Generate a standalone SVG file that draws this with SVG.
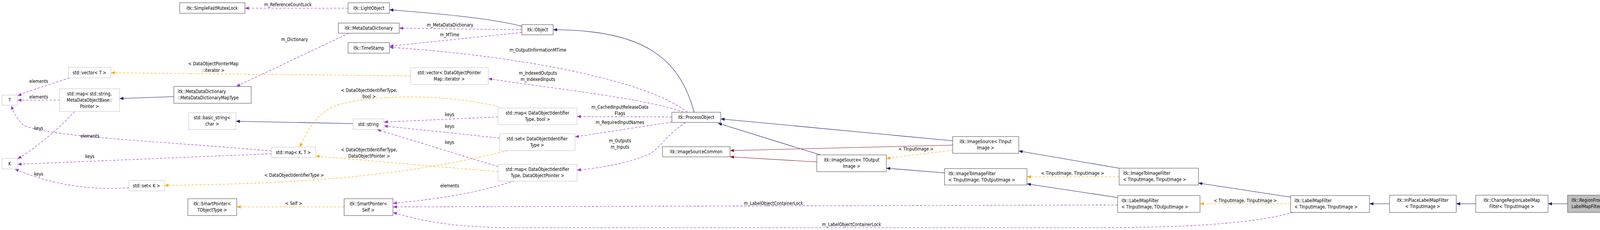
<svg xmlns="http://www.w3.org/2000/svg" width="4224" height="588" viewBox="0 0 4224 588">
<style>
text{font-family:"DejaVu Sans Condensed","DejaVu Sans",sans-serif;font-size:11.5px;fill:#000}
.n rect{fill:#fff;stroke:#404040;stroke-width:1}
.u rect{fill:#fff;stroke:#bfbfbf;stroke-width:1}
.c text{text-anchor:middle}
.e path{fill:none;stroke-width:1.1}
.p{stroke:#9a32cd;stroke-dasharray:6,4}
.o{stroke:#ffa500;stroke-dasharray:6,4}
.b{stroke:#191970}
.r{stroke:#8b1a1a}
.lb{text-anchor:middle}
</style>
<defs>
<marker id="ap" viewBox="0 0 10 8" refX="10" refY="4" markerWidth="10" markerHeight="8" markerUnits="userSpaceOnUse" orient="auto"><path d="M0,0L10,4L0,8z" fill="#9a32cd"/></marker>
<marker id="ao" viewBox="0 0 10 8" refX="10" refY="4" markerWidth="10" markerHeight="8" markerUnits="userSpaceOnUse" orient="auto"><path d="M0,0L10,4L0,8z" fill="#ffa500"/></marker>
<marker id="ab" viewBox="0 0 10 8" refX="10" refY="4" markerWidth="10" markerHeight="8" markerUnits="userSpaceOnUse" orient="auto"><path d="M0,0L10,4L0,8z" fill="#191970"/></marker>
<marker id="ar" viewBox="0 0 10 8" refX="10" refY="4" markerWidth="10" markerHeight="8" markerUnits="userSpaceOnUse" orient="auto"><path d="M0,0L10,4L0,8z" fill="#8b1a1a"/></marker>
</defs>
<rect width="4224" height="588" fill="#fff"/>
<g id="edges" class="e">
<path class="p" marker-end="url(#ap)" d="M891,21L627,21"/>
<path class="b" marker-end="url(#ab)" d="M1336,67C1250,45 1100,33 997,25"/>
<path class="p" marker-end="url(#ap)" d="M1336,76L1022,72"/>
<path class="p" marker-end="url(#ap)" d="M1336,83L997,118"/>
<path class="p" marker-end="url(#ap)" d="M1760,287C1650,200 1300,140 997,121"/>
<path class="b" marker-end="url(#ab)" d="M1777,287C1740,150 1650,76 1416,76"/>
<path class="p" marker-end="url(#ap)" d="M1750,287C1650,250 1400,225 1250,201"/>
<path class="o" marker-end="url(#ao)" d="M1051,194L284,186"/>
<path class="p" marker-end="url(#ap)" d="M893,85L605,221"/>
<path class="b" marker-end="url(#ab)" d="M445,247L306,252"/>
<path class="p" marker-end="url(#ap)" d="M153,256L45,256"/>
<path class="p" marker-end="url(#ap)" d="M178,199C130,215 80,230 45,245"/>
<path class="p" marker-end="url(#ap)" d="M191,285C150,330 90,380 45,406"/>
<path class="p" marker-end="url(#ap)" d="M695,386C400,360 120,350 60,320C45,305 35,290 29,270"/>
<path class="p" marker-end="url(#ap)" d="M695,393L45,420"/>
<path class="p" marker-end="url(#ap)" d="M330,480C250,485 150,480 38,432"/>
<path class="b" marker-end="url(#ab)" d="M904,316L604,310"/>
<path class="o" marker-end="url(#ao)" d="M1275,439L808,399"/>
<path class="o" marker-end="url(#ao)" d="M1276,273C1150,240 950,240 860,270C810,290 790,330 767,376"/>
<path class="o" marker-end="url(#ao)" d="M1300,385C1000,460 700,470 421,474"/>
<path class="p" marker-end="url(#ap)" d="M1275,299L983,312"/>
<path class="p" marker-end="url(#ap)" d="M1279,353L983,322"/>
<path class="p" marker-end="url(#ap)" d="M1275,426L965,331"/>
<path class="p" marker-end="url(#ap)" d="M1318,462C1200,500 1100,510 1006,520"/>
<path class="o" marker-end="url(#ao)" d="M881,529L606,529"/>
<path class="p" marker-end="url(#ap)" d="M1720,299L1477,298"/>
<path class="p" marker-end="url(#ap)" d="M1720,312L1472,350"/>
<path class="p" marker-end="url(#ap)" d="M1755,313C1700,350 1690,380 1660,395C1600,420 1530,430 1477,435"/>
<path class="p" marker-end="url(#ap)" d="M2861,524L1006,529"/>
<path class="p" marker-end="url(#ap)" d="M3310,543C3200,575 3000,582 2800,582L1300,582C1150,580 1080,565 1006,543"/>
<path class="b" marker-end="url(#ab)" d="M2439,360L1845,304"/>
<path class="b" marker-end="url(#ab)" d="M2100,396L1838,315"/>
<path class="r" marker-end="url(#ar)" d="M2439,371L1869,385"/>
<path class="r" marker-end="url(#ar)" d="M2091,414L1869,401"/>
<path class="o" marker-end="url(#ao)" d="M2439,384L2269,405"/>
<path class="b" marker-end="url(#ab)" d="M2418,442L2269,430"/>
<path class="b" marker-end="url(#ab)" d="M2865,430L2608,386"/>
<path class="o" marker-end="url(#ao)" d="M2865,452L2629,452"/>
<path class="b" marker-end="url(#ab)" d="M2861,505L2629,470"/>
<path class="b" marker-end="url(#ab)" d="M3304,504L3068,468"/>
<path class="o" marker-end="url(#ao)" d="M3304,521L3072,521"/>
<path class="b" marker-end="url(#ab)" d="M3557,521L3506,521"/>
<path class="b" marker-end="url(#ab)" d="M3778,521L3728,521"/>
<path class="b" marker-end="url(#ab)" d="M4013,521L3963,521"/>
<g class="lb">
<text x="737" y="16">m_ReferenceCountLock</text>
<text x="1152" y="68">m_MetaDataDictionary</text>
<text x="1151" y="93">m_MTime</text>
<text x="754" y="105">m_Dictionary</text>
<text x="1377" y="132">m_OutputInformationMTime</text>
<text x="1377" y="191">m_IndexedOutputs</text>
<text x="1377" y="207">m_IndexedInputs</text>
<text x="546" y="167">&lt; DataObjectPointerMap</text>
<text x="546" y="184">::iterator &gt;</text>
<text x="99" y="212">elements</text>
<text x="99" y="252">elements</text>
<text x="99" y="332">keys</text>
<text x="230" y="352">elements</text>
<text x="230" y="404">keys</text>
<text x="99" y="449">keys</text>
<text x="945" y="235">&lt; DataObjectIdentifierType,</text>
<text x="945" y="251">bool &gt;</text>
<text x="1151" y="297">keys</text>
<text x="1151" y="327">keys</text>
<text x="1151" y="368">keys</text>
<text x="945" y="387">&lt; DataObjectIdentifierType,</text>
<text x="945" y="403">DataObjectPointer &gt;</text>
<text x="753" y="452">&lt; DataObjectIdentifierType &gt;</text>
<text x="1151" y="479">elements</text>
<text x="752" y="524">&lt; Self &gt;</text>
<text x="1587" y="278">m_CachedInputReleaseData</text>
<text x="1587" y="294">Flags</text>
<text x="1587" y="317">m_RequiredInputNames</text>
<text x="1587" y="364">m_Outputs</text>
<text x="1587" y="380">m_Inputs</text>
<text x="1980" y="524">m_LabelObjectContainerLock</text>
<text x="2180" y="578">m_LabelObjectContainerLock</text>
<text x="2345" y="385">&lt; TInputImage &gt;</text>
<text x="2746" y="447">&lt; TInputImage, TInputImage &gt;</text>
<text x="3188" y="517">&lt; TInputImage, TInputImage &gt;</text>
</g>
</g>
<g id="n_mutex" class="n c"><rect x="460" y="7" width="167" height="27"/><text x="543" y="25">itk::SimpleFastMutexLock</text></g>
<g id="n_light" class="n c"><rect x="891" y="7" width="106" height="27"/><text x="944" y="25">itk::LightObject</text></g>
<g id="n_mdd" class="n c"><rect x="866" y="59" width="156" height="26"/><text x="944" y="76">itk::MetaDataDictionary</text></g>
<g id="n_ts" class="n c"><rect x="891" y="109" width="106" height="27"/><text x="944" y="127">itk::TimeStamp</text></g>
<g id="n_obj" class="n c"><rect x="1336" y="63" width="80" height="26"/><text x="1376" y="80">itk::Object</text></g>
<g id="n_vecT" class="u c"><rect x="175" y="172" width="109" height="27"/><text x="229" y="190">std::vector&lt; T &gt;</text></g>
<g id="n_T" class="u c"><rect x="5" y="243" width="40" height="26"/><text x="25" y="260">T</text></g>
<g id="n_K" class="u c"><rect x="5" y="405" width="40" height="27"/><text x="25" y="423">K</text></g>
<g id="n_mapstr" class="u c"><rect x="153" y="227" width="153" height="58"/><text x="229" y="244">std::map&lt; std::string,</text><text x="229" y="260">MetaDataObjectBase::</text><text x="229" y="276">Pointer &gt;</text></g>
<g id="n_maptype" class="n"><rect x="445" y="221" width="198" height="43"/><text x="455" y="238">itk::MetaDataDictionary</text><text x="455" y="254">::MetaDataDictionaryMapType</text></g>
<g id="n_bstr" class="u c"><rect x="483" y="288" width="121" height="43"/><text x="543" y="305">std::basic_string&lt;</text><text x="543" y="321">char &gt;</text></g>
<g id="n_str" class="u c"><rect x="904" y="304" width="79" height="27"/><text x="943" y="322">std::string</text></g>
<g id="n_mapKT" class="u c"><rect x="695" y="376" width="113" height="27"/><text x="751" y="394">std::map&lt; K, T &gt;</text></g>
<g id="n_setK" class="u c"><rect x="330" y="461" width="91" height="27"/><text x="375" y="479">std::set&lt; K &gt;</text></g>
<g id="n_spT" class="n c"><rect x="481" y="508" width="125" height="43"/><text x="543" y="525">itk::SmartPointer&lt;</text><text x="543" y="541">TObjectType &gt;</text></g>
<g id="n_spS" class="n c"><rect x="881" y="508" width="125" height="43"/><text x="943" y="525">itk::SmartPointer&lt;</text><text x="943" y="541">Self &gt;</text></g>
<g id="n_vecit" class="u c"><rect x="1051" y="173" width="199" height="43"/><text x="1150" y="190">std::vector&lt; DataObjectPointer</text><text x="1150" y="206">Map::iterator &gt;</text></g>
<g id="n_mapbool" class="u c"><rect x="1275" y="276" width="202" height="43"/><text x="1376" y="293">std::map&lt; DataObjectIdentifier</text><text x="1376" y="309">Type, bool &gt;</text></g>
<g id="n_setid" class="u c"><rect x="1279" y="342" width="193" height="43"/><text x="1375" y="359">std::set&lt; DataObjectIdentifier</text><text x="1375" y="375">Type &gt;</text></g>
<g id="n_mapdop" class="u c"><rect x="1275" y="420" width="202" height="43"/><text x="1376" y="437">std::map&lt; DataObjectIdentifier</text><text x="1376" y="453">Type, DataObjectPointer &gt;</text></g>
<g id="n_po" class="n c"><rect x="1720" y="287" width="125" height="26"/><text x="1782" y="304">itk::ProcessObject</text></g>
<g id="n_isc" class="n c"><rect x="1696" y="375" width="173" height="26"/><text x="1782" y="392">itk::ImageSourceCommon</text></g>
<g id="n_isO" class="n c"><rect x="2091" y="396" width="178" height="43"/><text x="2180" y="413">itk::ImageSource&lt; TOutput</text><text x="2180" y="429">Image &gt;</text></g>
<g id="n_isI" class="n c"><rect x="2439" y="349" width="169" height="43"/><text x="2523" y="366">itk::ImageSource&lt; TInput</text><text x="2523" y="382">Image &gt;</text></g>
<g id="n_i2iO" class="n"><rect x="2418" y="431" width="211" height="42"/><text x="2428" y="448">itk::ImageToImageFilter</text><text x="2428" y="464">&lt; TInputImage, TOutputImage &gt;</text></g>
<g id="n_i2iI" class="n"><rect x="2865" y="430" width="203" height="43"/><text x="2875" y="447">itk::ImageToImageFilter</text><text x="2875" y="463">&lt; TInputImage, TInputImage &gt;</text></g>
<g id="n_lmO" class="n"><rect x="2861" y="500" width="211" height="43"/><text x="2871" y="517">itk::LabelMapFilter</text><text x="2871" y="533">&lt; TInputImage, TOutputImage &gt;</text></g>
<g id="n_lmI" class="n"><rect x="3304" y="500" width="202" height="43"/><text x="3314" y="517">itk::LabelMapFilter</text><text x="3314" y="533">&lt; TInputImage, TInputImage &gt;</text></g>
<g id="n_inplace" class="n c"><rect x="3557" y="499" width="171" height="44"/><text x="3642" y="516">itk::InPlaceLabelMapFilter</text><text x="3642" y="532">&lt; TInputImage &gt;</text></g>
<g id="n_change" class="n c"><rect x="3778" y="499" width="185" height="44"/><text x="3870" y="516">itk::ChangeRegionLabelMap</text><text x="3870" y="532">Filter&lt; TInputImage &gt;</text></g>
<g id="n_region"><rect x="4013" y="499" width="205" height="44" fill="#bfbfbf" stroke="#404040"/><text x="4023" y="516">itk::RegionFromReference</text><text x="4023" y="532">LabelMapFilter&lt; TInputImage &gt;</text></g>
</svg>
